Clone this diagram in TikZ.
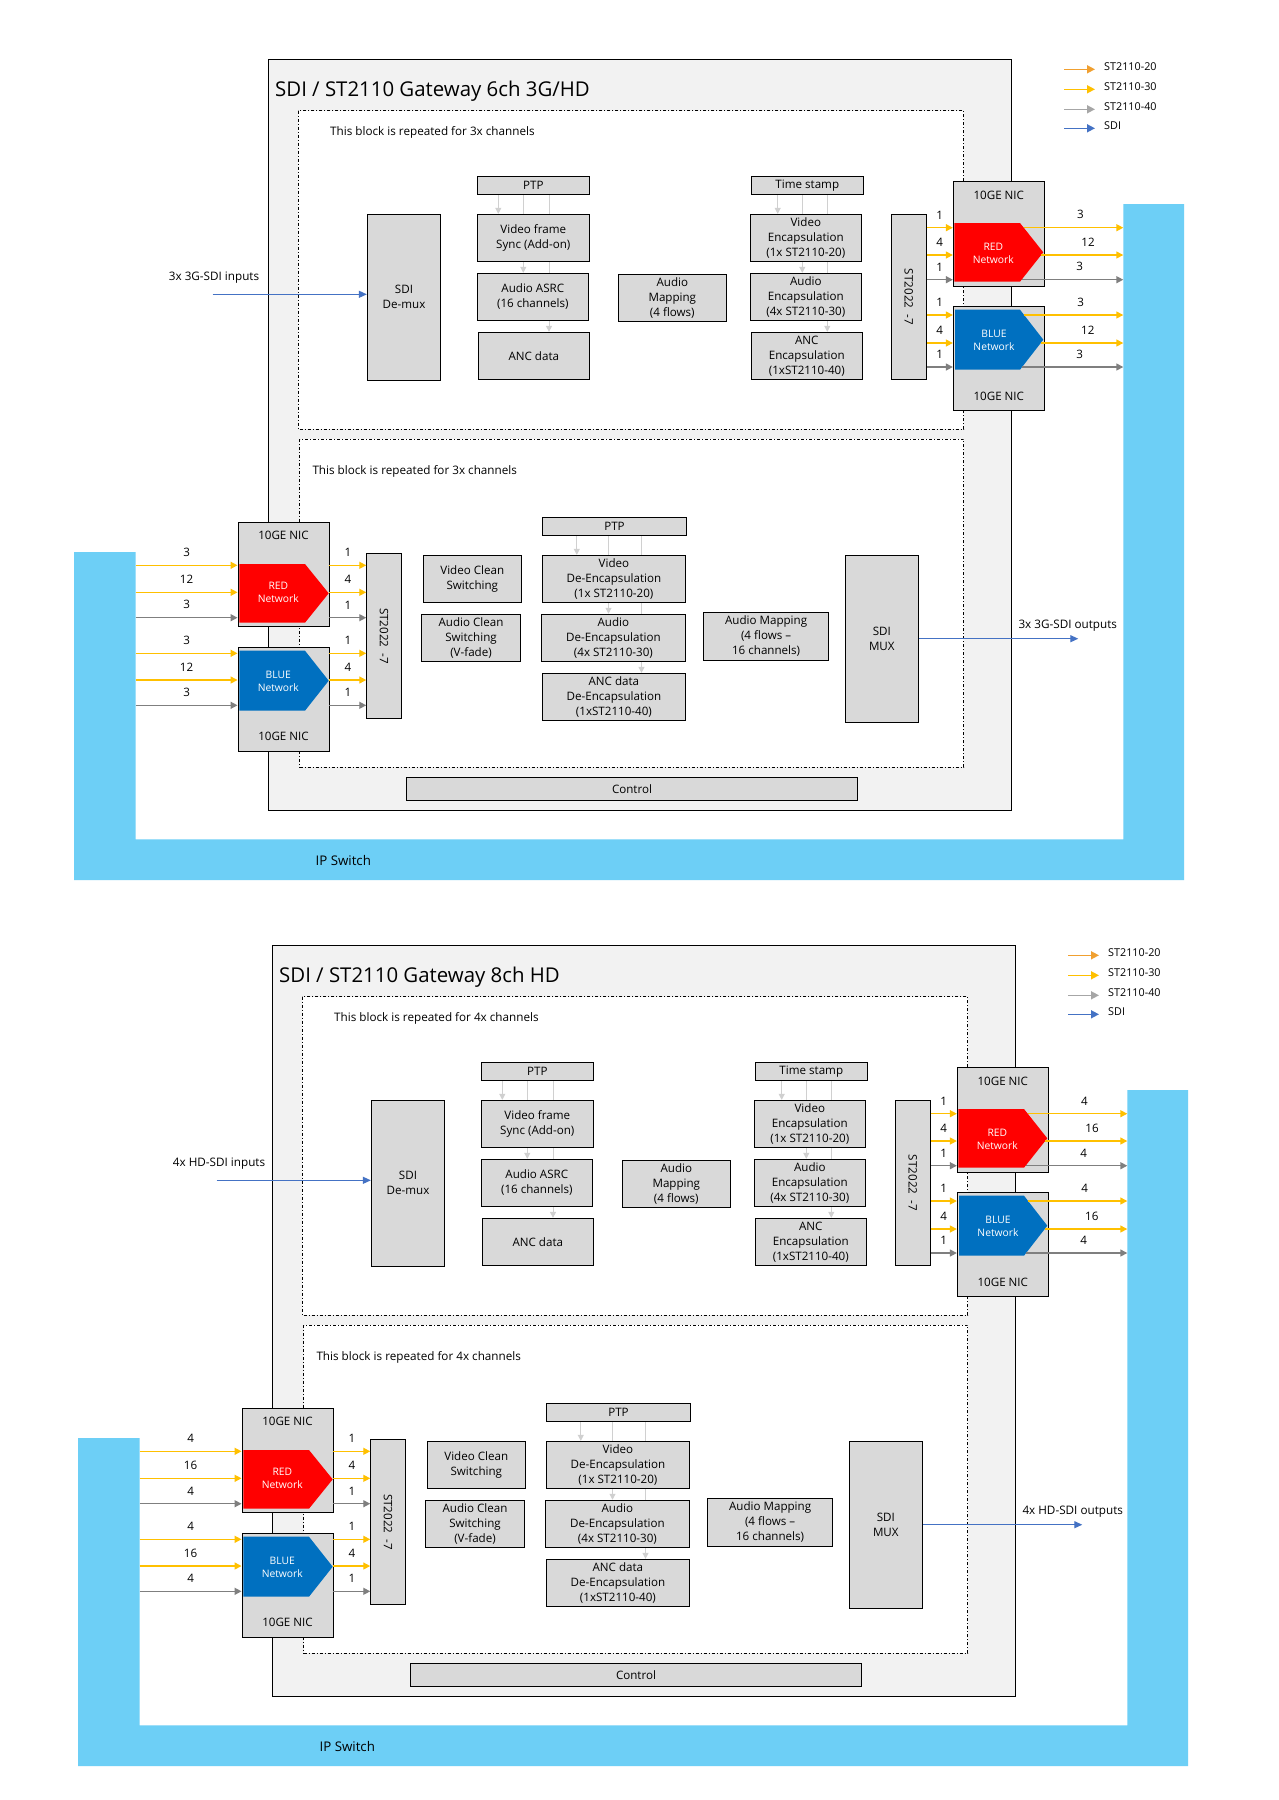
\documentclass[tikz,border=0pt]{standalone}
\usepackage{fontspec}
\setmainfont{Open Sans}
\usetikzlibrary{arrows.meta}

\definecolor{boxgray}{HTML}{D9D9D9}
\definecolor{framegray}{HTML}{F2F2F2}
\definecolor{ipblue}{HTML}{6DCFF6}
\definecolor{netred}{HTML}{FF0000}
\definecolor{netblue}{HTML}{0070C0}
\definecolor{lanegold}{HTML}{FFC000}
\definecolor{lanegray}{HTML}{7F7F7F}
\definecolor{legorange}{HTML}{F0A030}
\definecolor{leggray}{HTML}{A6A6A6}
\definecolor{sdiblue}{HTML}{4472C4}
\definecolor{tickgray}{HTML}{D0D0D0}

\pgfdeclarelayer{back}
\pgfdeclarelayer{mid}
\pgfsetlayers{back,mid,main}

\newcommand{\boxfont}{\fontsize{11.6}{15}\selectfont}
\newcommand{\notefont}{\fontsize{11.7}{13}\selectfont}
\newcommand{\legfont}{\fontsize{10.8}{13}\selectfont}
\newcommand{\netfont}{\fontsize{10.3}{13}\selectfont}
\newcommand{\titlefont}{\fontsize{20.4}{24}\selectfont}
\newcommand{\ipfont}{\fontsize{13.3}{15}\selectfont}

% one gateway panel: title, channels, audio flows per link, SDI kind
\newcommand{\gwpanel}[4]{%
  \begin{pgfonlayer}{back}
    \fill[ipblue] (74,552) -- (135.7,552) -- (135.7,839.3) -- (1123.3,839.3)
      -- (1123.3,204) -- (1184,204) -- (1184,880) -- (74,880) -- cycle;
    \draw[gwframe] (268.3,59.3) rectangle (1011.7,810);
    \draw[rptbox] (298.3,110.7) rectangle (963.7,429.3);
    \draw[rptbox] (299.5,439.3) rectangle (963.5,767.3);
  \end{pgfonlayer}
  \coordinate (ipl) at (135.7,0);
  \coordinate (ipr) at (1123.3,0);
  \node[font=\ipfont] (ipsw) at (343.3,860) {IP Switch};
  \node[font=\titlefont, anchor=base west, inner sep=0pt] (title) at (275,96.7) {SDI / ST2110 Gateway #1};
  \node[note] (rpt1) at (330,132.7) {This block is repeated for #2x channels};
  \node[note] (rpt2) at (312.3,471.7) {This block is repeated for #2x channels};
  % encoder side
  \node[blk, minimum width=73.4, minimum height=166] (demux) at (404,297.3) {SDI\\De-mux};
  \node[blk, minimum width=112, minimum height=18] (ptpa) at (533.3,185.3) {PTP};
  \node[blk, minimum width=112, minimum height=47] (vfs) at (533.3,237.8) {Video frame\\Sync (Add-on)};
  \node[blk, minimum width=111, minimum height=47] (asrc) at (532.8,296.8) {Audio ASRC\\(16 channels)};
  \node[blk, minimum width=111, minimum height=47] (ancd) at (533.8,355.8) {ANC data};
  \node[blk, minimum width=108, minimum height=47] (amapa) at (672.3,297.8) {Audio\\Mapping\\(4 flows)};
  \node[blk, minimum width=112, minimum height=18] (tstamp) at (807.3,185.3) {Time stamp};
  \node[blk, minimum width=111, minimum height=47] (venc) at (805.8,237.8) {Video\\Encapsulation\\(1x ST2110-20)};
  \node[blk, minimum width=111, minimum height=47] (aenc) at (805.8,296.8) {Audio\\Encapsulation\\(4x ST2110-30)};
  \node[blk, minimum width=111, minimum height=47] (xenc) at (806.8,355.8) {ANC\\Encapsulation\\(1xST2110-40)};
  \node[blk, minimum width=35, minimum height=165] (sta) at (908.8,296.8) {};
  \node[font=\boxfont, rotate=-90] (stat) at (sta) {ST2022 \ -7};
  \node[nic, minimum height=105] (nicra) at (998.8,233.8) {};
  \node[nic] (nicba) at (998.8,358.3) {};
  \fill[netred] (954.3,223) -- (1020,223) -- (1043.3,252.3) -- (1020,281.7) -- (954.3,281.7) -- cycle;
  \fill[netblue] (955,309.7) -- (1020,309.7) -- (1043.3,339.7) -- (1020,369.7) -- (955,369.7) -- cycle;
  \node[font=\boxfont] (nicrat) at (998.8,195.7) {10GE NIC};
  \node[font=\boxfont] (nicbat) at (998.8,396.7) {10GE NIC};
  \node[nettxt] (reda) at (993.3,253) {RED\\Network};
  \node[nettxt] (bluea) at (994,340) {BLUE\\Network};
  % decoder side
  \node[nic] (nicrb) at (283.5,574.3) {};
  \node[nic] (nicbb) at (283.5,699.5) {};
  \fill[netred] (239.3,564) -- (305,564) -- (328.7,593.3) -- (305,622.7) -- (239.3,622.7) -- cycle;
  \fill[netblue] (239.3,650.7) -- (305,650.7) -- (328.7,680.7) -- (305,710.7) -- (239.3,710.7) -- cycle;
  \node[font=\boxfont] (nicrbt) at (283.5,535.7) {10GE NIC};
  \node[font=\boxfont] (nicbbt) at (283.5,736.7) {10GE NIC};
  \node[nettxt] (redb) at (278.3,592.8) {RED\\Network};
  \node[nettxt] (blueb) at (278.3,681) {BLUE\\Network};
  \node[blk, minimum width=34.6, minimum height=164.6] (stb) at (384,636) {};
  \node[font=\boxfont, rotate=-90] (stbt) at (stb) {ST2022 \ -7};
  \node[blk, minimum width=98, minimum height=46.6] (vcs) at (472.3,579) {Video Clean\\Switching};
  \node[blk, minimum width=98.6, minimum height=47] (acs) at (471,637.8) {Audio Clean\\Switching\\(V-fade)};
  \node[blk, minimum width=144, minimum height=18] (ptpb) at (614.5,526.3) {PTP};
  \node[blk, minimum width=143, minimum height=47] (vdec) at (613.9,578.8) {Video\\De-Encapsulation\\(1x ST2110-20)};
  \node[blk, minimum width=144, minimum height=47] (adec) at (613.4,637.7) {Audio\\De-Encapsulation\\(4x ST2110-30)};
  \node[blk, minimum width=143, minimum height=47] (xdec) at (613.9,696.8) {ANC data\\De-Encapsulation\\(1xST2110-40)};
  \node[blk, minimum width=125, minimum height=48] (amapb) at (766.1,636.3) {Audio Mapping\\(4 flows \textendash\\16 channels)};
  \node[blk, minimum width=73, minimum height=167] (mux) at (881.8,638.8) {SDI\\MUX};
  \node[blk, minimum width=450.6, minimum height=22.7] (ctrl) at (632,788.7) {Control};
  % timing feeds behind the boxes
  \begin{pgfonlayer}{mid}
    \foreach \cx/\src/\dst in {498.3/ptpa/vfs, 523.3/ptpa/asrc, 549/ptpa/ancd,
        777.7/tstamp/venc, 802.3/tstamp/aenc, 827.3/tstamp/xenc,
        576.8/ptpb/vdec, 608.5/ptpb/adec, 641.5/ptpb/xdec}{
      \coordinate (tk) at (\cx,0);
      \draw[tick] (tk |- \src.south) -- (tk |- \dst.north);
    }
  \end{pgfonlayer}
  % network links, encoder side
  \foreach \k/\ly/\sx/\nn/\li/\lo/\lc in {1/227.7/1023.7/nicra/1/#2/lanegold,
      2/255/1041.2/nicra/4/#3/lanegold, 3/279.7/1021.6/nicra/1/#2/lanegray,
      4/315/1024.1/nicba/1/#2/lanegold, 5/343/1040.7/nicba/4/#3/lanegold,
      6/367/1022.1/nicba/1/#2/lanegray}{
    \coordinate (ly\k) at (\sx,\ly);
    \draw[lane, \lc] (sta.east |- ly\k) -- (\nn.west |- ly\k) node[lbl] (lin\k) {\li};
    \draw[lane, \lc] (ly\k) -- (ipr |- ly\k) node[lbl, pos=0.57] (lout\k) {\lo};
  }
  % network links, decoder side
  \foreach \k/\ly/\nn/\li/\lo/\lc in {7/565.3/nicrb/1/#2/lanegold,
      8/592.3/nicrb/4/#3/lanegold, 9/617.7/nicrb/1/#2/lanegray,
      10/653.3/nicbb/1/#2/lanegold, 11/680/nicbb/4/#3/lanegold,
      12/705.3/nicbb/1/#2/lanegray}{
    \coordinate (ly\k) at (0,\ly);
    \draw[lane, \lc] (ipl |- ly\k) -- (\nn.west |- ly\k) node[lbl] (lin\k) {\lo};
    \draw[lane, \lc] (\nn.east |- ly\k) -- (stb.west |- ly\k) node[lbl] (lout\k) {\li};
  }
  % SDI in and out
  \coordinate (sdiin) at (212.7,294.3);
  \draw[sdi] (sdiin) -- (demux.west |- sdiin);
  \node[note] (sdiinl) at (168.7,278) {#2x #4 inputs};
  \coordinate (sdiout) at (1078.3,638.7);
  \draw[sdi] (mux.east |- sdiout) -- (sdiout);
  \node[note] (sdioutl) at (1018.3,626) {#2x #4 outputs};
  % legend
  \foreach \k/\ly/\lc/\lt in {1/69.3/legorange/ST2110-20, 2/89.3/lanegold/ST2110-30,
      3/109.3/leggray/ST2110-40, 4/128.3/sdiblue/SDI}{
    \coordinate (lga\k) at (1064.3,\ly);
    \node[note, font=\legfont] (lgt\k) at (1104,\ly-2.5) {\lt};
    \draw[legarrow, \lc] (lga\k) -- (lgt\k.west |- lga\k);
  }
}

\begin{document}
\begin{tikzpicture}[x=1pt, y=-1pt,
    blk/.style={draw, fill=boxgray, line width=0.9pt, align=center, font=\boxfont, inner sep=1pt},
    nic/.style={draw, fill=boxgray, line width=0.9pt, minimum width=91, minimum height=104, inner sep=0pt},
    nettxt/.style={font=\netfont, text=white, align=center, inner sep=0pt},
    note/.style={font=\notefont, anchor=west, inner sep=0pt},
    lbl/.style={font=\boxfont, text=black, midway, above=7pt, inner sep=1pt},
    gwframe/.style={draw=black, fill=framegray, line width=1pt},
    rptbox/.style={draw=black, fill=white, line width=0.7pt, dash pattern=on 3pt off 2pt on 1pt off 2pt},
    tick/.style={draw=tickgray, line width=1pt, -{Triangle[length=6pt, width=6pt]}},
    lane/.style={line width=1.4pt, -{Triangle[length=7pt, width=7pt]}},
    sdi/.style={draw=sdiblue, line width=1.2pt, -{Triangle[length=8pt, width=7pt]}},
    legarrow/.style={line width=1.5pt, -{Triangle[length=8pt, width=8pt]}, shorten >=9pt}]
  \useasboundingbox (0,0) rectangle (1279,1800);
  \begin{pgfonlayer}{back}
    \fill[white] (0,0) rectangle (1279,1800);
  \end{pgfonlayer}
  \gwpanel{6ch 3G/HD}{3}{12}{3G-SDI}
  \begin{scope}[shift={(4,886)}, name prefix=b-]
    \gwpanel{8ch HD}{4}{16}{HD-SDI}
  \end{scope}
\end{tikzpicture}
\end{document}
